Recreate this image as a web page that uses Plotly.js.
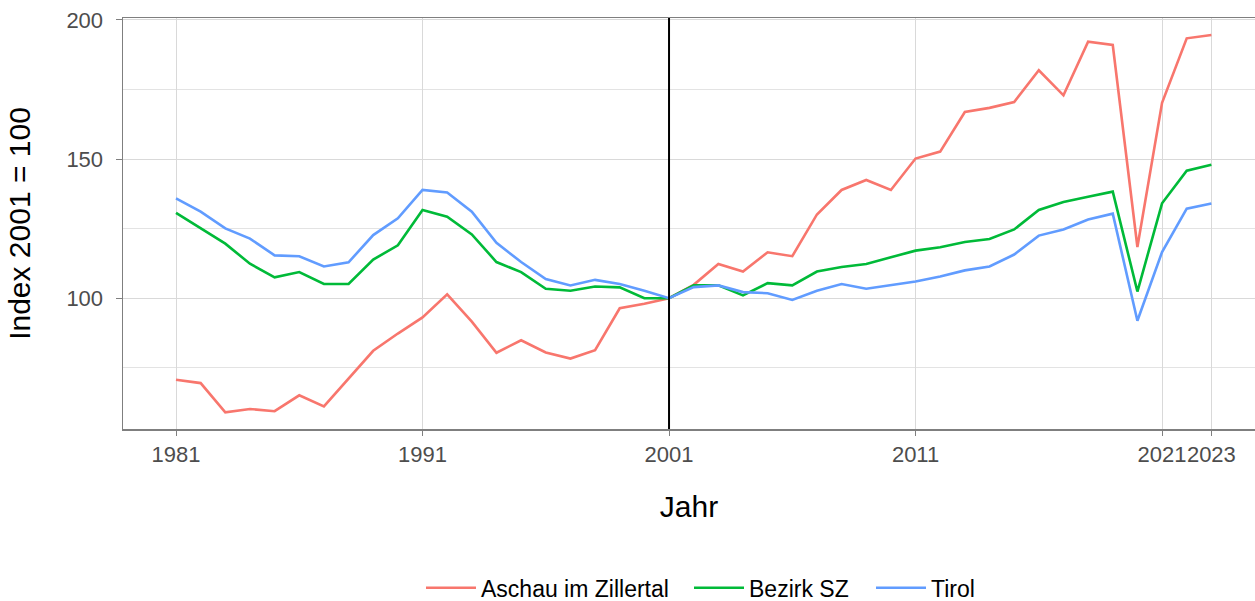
<!DOCTYPE html>
<html><head><meta charset="utf-8">
<script src="https://cdn.plot.ly/plotly-3.0.1.min.js"></script>
<style>html,body{margin:0;padding:0;overflow:hidden;background:#fff}</style>
</head><body><div id="chart" style="width:1255px;height:601px"></div>
<script>
const years = [1981,1982,1983,1984,1985,1986,1987,1988,1989,1990,1991,1992,1993,1994,1995,1996,1997,1998,1999,2000,2001,2002,2003,2004,2005,2006,2007,2008,2009,2010,2011,2012,2013,2014,2015,2016,2017,2018,2019,2020,2021,2022,2023];
const aschau = [70.7,69.5,59.0,60.2,59.4,65.1,61.1,71.1,81.1,87.3,93.1,101.4,91.6,80.4,84.9,80.5,78.3,81.3,96.4,98.0,100,104.8,112.3,109.6,116.5,115.1,130.1,138.9,142.5,138.9,150.2,152.7,166.9,168.4,170.5,181.9,172.9,192.2,191.0,118.4,170.2,193.4,194.6];
const bezirkSZ = [130.7,125.1,119.6,112.4,107.5,109.4,105.1,105.1,113.9,119.0,131.7,129.3,122.9,113.0,109.4,103.4,102.7,104.2,103.9,100.0,100,104.6,104.6,101.0,105.4,104.6,109.6,111.2,112.3,114.7,117.1,118.3,120.2,121.3,124.7,131.7,134.6,136.5,138.3,102.4,134.1,145.8,148.0];
const tirol = [135.9,131.1,125.1,121.4,115.4,115.1,111.4,112.9,122.7,128.7,138.9,138.0,131.1,119.9,113.0,106.9,104.6,106.6,105.1,102.7,100,104.0,104.6,102.2,101.8,99.4,102.7,105.1,103.4,104.6,106.0,107.8,110.0,111.4,115.7,122.5,124.7,128.3,130.4,91.9,116.6,132.2,134.0];
const seriesNames = ["Aschau im Zillertal","Bezirk SZ","Tirol"];
const xTickVals = [1981,1991,2001,2011,2021,2023];
const yTickVals = [100,150,200];
const refYear = 2001;

const colors = ["#F8766D","#00BA38","#619CFF"];
const legendIds = ["legend","legend2","legend3"];
const legendLeft = [421, 689, 871];
const data = [aschau, bezirkSZ, tirol].map((v,i)=>({
  x: years, y: v, type: "scatter", mode: "lines", name: seriesNames[i],
  legend: legendIds[i],
  line: {color: colors[i], width: 2.6}
}));

const W = 1255, H = 601;
const layout = {
  width: W, height: H,
  margin: {l: 123, r: 0, t: 18, b: 172},
  paper_bgcolor: "#fff", plot_bgcolor: "#fff",
  font: {family: "Liberation Sans, Arial, sans-serif"},
  showlegend: true,
  xaxis: {
    range: [1978.85, 2024.77], tickvals: xTickVals, ticktext: xTickVals.map(String),
    tickangle: 0,
    showgrid: true, gridcolor: "#d9d9d9", gridwidth: 1, zeroline: false,
    showline: true, linecolor: "#7f7f7f", linewidth: 1.5, mirror: true,
    ticks: "outside", ticklen: 5, tickcolor: "#7f7f7f", tickwidth: 1,
    tickfont: {size: 22, color: "#4d4d4d"},
    title: {text: "Jahr", font: {size: 30, color: "#000"}, standoff: 30}
  },
  yaxis: {
    range: [53, 200.7], tickvals: yTickVals,
    showgrid: true, gridcolor: "#d9d9d9", gridwidth: 1, zeroline: false,
    minor: {dtick: 25, tick0: 0, showgrid: true, gridcolor: "#e3e3e3", gridwidth: 1, ticks: ""},
    showline: true, linecolor: "#7f7f7f", linewidth: 1.5, mirror: false,
    ticks: "outside", ticklen: 6, tickcolor: "#7f7f7f", tickwidth: 1,
    ticklabelposition: "outside", ticklabelstandoff: 8,
    tickfont: {size: 22, color: "#4d4d4d"},
    title: {text: "Index 2001 = 100", font: {size: 30, color: "#000"}, standoff: 27}
  },
  shapes: [{type: "line", xref: "x", yref: "paper", x0: refYear, x1: refYear, y0: 0, y1: 1,
    line: {color: "#000", width: 2}}]
};
legendIds.forEach((id,i)=>{
  layout[id] = {orientation: "h", xref: "container", x: legendLeft[i]/W, xanchor: "left",
    yref: "container", y: 0.022, yanchor: "middle",
    font: {size: 23, color: "#000"}, itemwidth: 50, bgcolor: "rgba(0,0,0,0)"};
});
Plotly.newPlot("chart", data, layout, {displayModeBar: false, staticPlot: true});
</script></body></html>
